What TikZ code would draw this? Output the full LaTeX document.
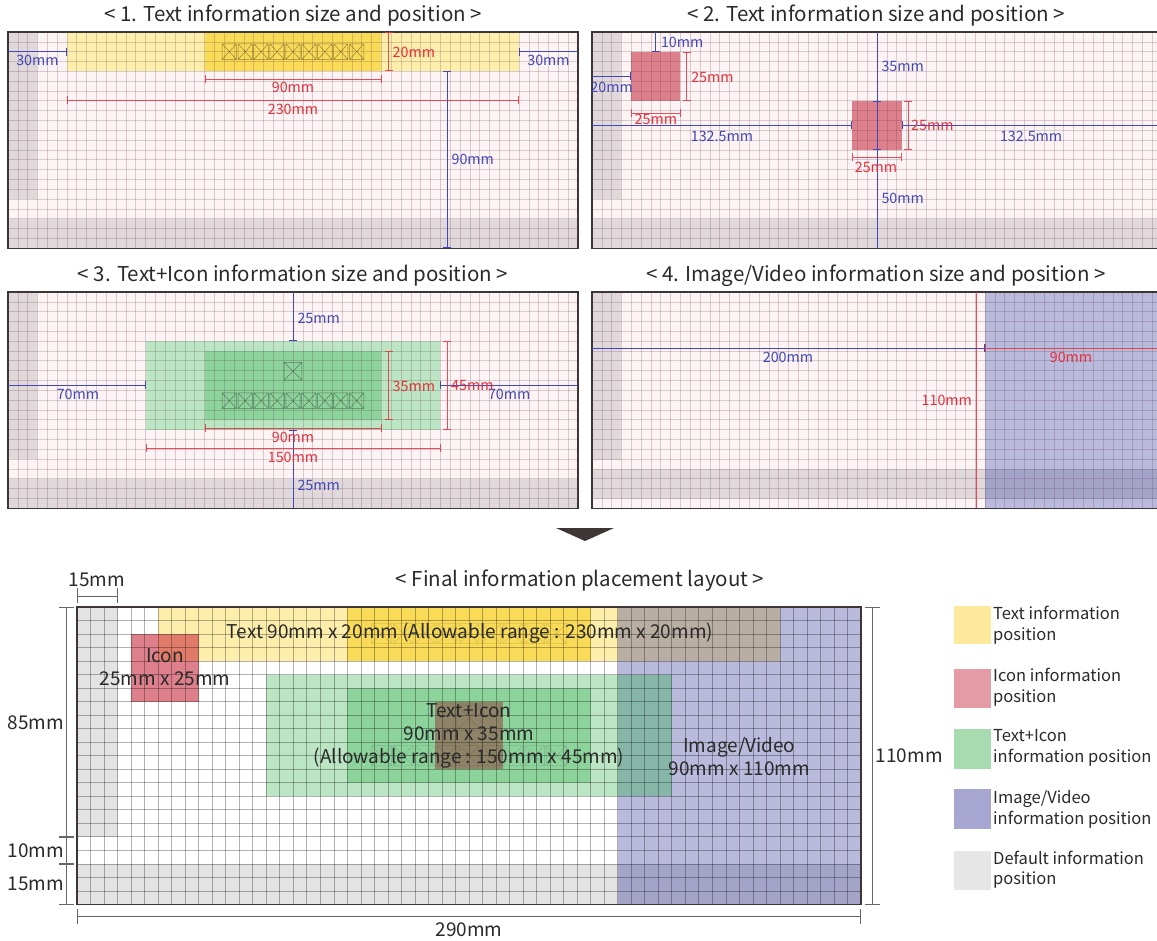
\documentclass[tikz,border=0pt]{standalone}
\usepackage{fontspec}
\setmainfont{Noto Sans CJK KR}
\usetikzlibrary{arrows.meta}
\definecolor{pinkbg}{HTML}{FCF3F4}
\definecolor{pgray}{HTML}{E0D8DA}
\definecolor{gridc}{HTML}{5A3A44}
\definecolor{framec}{HTML}{3D3536}
\definecolor{dimblue}{HTML}{4248B8}
\definecolor{dimred}{HTML}{E8303C}
\definecolor{ylight}{HTML}{FDEEAC}
\definecolor{ydark}{HTML}{F9DB58}
\definecolor{ired}{HTML}{DD808B}
\definecolor{iredy}{HTML}{E07B6A}
\definecolor{glight}{HTML}{BCE5C4}
\definecolor{gdark}{HTML}{8DD39C}
\definecolor{brownc}{HTML}{8F8468}
\definecolor{bluec}{HTML}{BABADC}
\definecolor{ybc}{HTML}{B8AEA2}
\definecolor{gbc}{HTML}{86B6A8}
\definecolor{graybc}{HTML}{A4A4C8}
\definecolor{fgray}{HTML}{E3E3E3}
\definecolor{txtc}{HTML}{2A2A2A}
\definecolor{fdim}{HTML}{666666}
\definecolor{legy}{HTML}{FCE99B}
\definecolor{legr}{HTML}{E59BA4}
\definecolor{legg}{HTML}{A6DCB0}
\definecolor{legb}{HTML}{A6A6D0}
\definecolor{legd}{HTML}{E6E6E6}
\newcommand\kk{1.9655}
\newcommand\kf{2.7034}
\newcommand\pgridlines[1]{%
  \foreach \i in {5,10,...,285} \draw[#1] (\i,0) -- (\i,110);
  \foreach \j in {5,10,...,105} \draw[#1] (0,\j) -- (290,\j);}
\newcommand\xbox[5][]{%
  \draw[#1] ({#2-#4/2},{#3-#5/2}) rectangle ({#2+#4/2},{#3+#5/2})
    ({#2-#4/2},{#3-#5/2}) -- ({#2+#4/2},{#3+#5/2})
    ({#2-#4/2},{#3+#5/2}) -- ({#2+#4/2},{#3-#5/2});}
\begin{document}
\begin{tikzpicture}[x=1pt,y=-1pt,
  pframe/.style={draw=framec,line width=1.3pt},
  pgrid/.style={draw=gridc,line width=0.6pt,opacity=0.22},
  fgrid/.style={draw=black,line width=0.6pt,opacity=0.3},
  dimB/.style={draw=dimblue,line width=1pt},
  dimR/.style={draw=dimred,line width=0.9pt,opacity=0.85},
  tickboth/.style={arrows={Bar[width=8pt]-Bar[width=8pt]}},
  tickend/.style={arrows={-Bar[width=8pt]}},
  tickstart/.style={arrows={Bar[width=8pt]-}},
  tB/.style={text=dimblue,font=\fontsize{14.3}{17}\selectfont,inner sep=0pt},
  tR/.style={text=dimred,font=\fontsize{14.3}{17}\selectfont,inner sep=0pt},
  ttl/.style={text=txtc,font=\fontsize{20.5}{24}\selectfont,inner sep=0pt},
  ft/.style={text=txtc,font=\fontsize{19}{23}\selectfont,inner sep=0pt,align=center},
  fdl/.style={draw=fdim,line width=0.8pt},
  fbar/.style={arrows={Bar[width=15pt]-Bar[width=15pt]}},
  leg/.style={text=txtc,font=\fontsize{16.5}{20.5}\selectfont,inner sep=0pt,align=left,anchor=west},
  xb/.style={draw=black,line width=0.5pt,opacity=0.4},
  xbf/.style={draw=black,line width=0.5pt,opacity=0.13}]
\useasboundingbox (0,0) rectangle (1157,941);
\fill[white] (0,0) rectangle (1157,941);

% titles
\node[ttl] (t1) at (293,16) {< 1. Text information size and position >};
\node[ttl] (t2) at (876,16) {< 2. Text information size and position >};
\node[ttl] (t3) at (293,276) {< 3. Text+Icon information size and position >};
\node[ttl] (t4) at (876,276) {< 4. Image/Video information size and position >};
\node[ttl] (t5) at (580,581) {< Final information placement layout >};

% ---------- Panel 1
\begin{scope}[shift={(8,32)},x=\kk pt,y=-\kk pt]
  \fill[pinkbg] (0,0) rectangle (290,110);
  \fill[pgray] (0,0) rectangle (15,85);
  \fill[pgray] (0,95) rectangle (290,110);
  \fill[ylight] (30,0) rectangle (260,20);
  \fill[ydark] (100,0) rectangle (190,20);
  \pgridlines{pgrid}
  \foreach \i in {0,...,8} {\xbox[xb]{145+(\i-4)*8.1}{10}{7.3}{8}}
  \draw[pframe] (0,0) rectangle (290,110);
  \draw[dimB,tickend] (0,10) -- (30,10);
  \node[tB] (p1a) at (15,14.4) {30mm};
  \draw[dimB,tickstart] (260,10) -- (290,10);
  \node[tB] (p1b) at (275,14.4) {30mm};
  \draw[dimR,tickboth] (100,24) -- (190,24);
  \node[tR] (p1c) at (145,28.2) {90mm};
  \draw[dimR,tickboth] (30,34.6) -- (260,34.6);
  \node[tR] (p1d) at (145,39.2) {230mm};
  \draw[dimR,tickboth] (193.7,0) -- (193.7,20);
  \node[tR,anchor=west] (p1e) at (195.6,10.2) {20mm};
  \draw[dimB,tickboth] (223.5,20) -- (223.5,110);
  \node[tB,anchor=west] (p1f) at (225.6,64.6) {90mm};
\end{scope}

% ---------- Panel 2
\begin{scope}[shift={(592,32)},x=\kk pt,y=-\kk pt]
  \fill[pinkbg] (0,0) rectangle (290,110);
  \fill[pgray] (0,0) rectangle (15,85);
  \fill[pgray] (0,95) rectangle (290,110);
  \fill[ired] (20,10) rectangle (45,35);
  \fill[ired] (132.5,35) rectangle (157.5,60);
  \pgridlines{pgrid}
  \draw[pframe] (0,0) rectangle (290,110);
  \draw[dimB,tickend] (32.5,0) -- (32.5,10);
  \node[tB,anchor=west] (p2a) at (35,5.2) {10mm};
  \draw[dimB,tickend] (0,22.5) -- (20,22.5);
  \node[tB] (p2b) at (10,28) {20mm};
  \draw[dimR,tickboth] (20,41.2) -- (45,41.2);
  \node[tR] (p2c) at (32.5,44.6) {25mm};
  \draw[dimR,tickboth] (48.3,10) -- (48.3,35);
  \node[tR,anchor=west] (p2d) at (50.4,22.9) {25mm};
  \draw[dimB] (145,0) -- (145,110);
  \draw[dimB,tickboth] (145,35) -- (145,60);
  \node[tB,anchor=west] (p2e) at (147.2,17.3) {35mm};
  \node[tB,anchor=west] (p2f) at (147.2,84.5) {50mm};
  \draw[dimB,tickend] (0,47.5) -- (132.5,47.5);
  \draw[dimB,tickstart] (157.5,47.5) -- (290,47.5);
  \node[tB] (p2g) at (66.1,53) {132.5mm};
  \node[tB] (p2h) at (223.4,53) {132.5mm};
  \draw[dimR,tickboth] (160.8,35) -- (160.8,60);
  \node[tR,anchor=west] (p2i) at (162.3,47.7) {25mm};
  \draw[dimR,tickboth] (132.5,63.6) -- (157.5,63.6);
  \node[tR] (p2j) at (144.5,68.8) {25mm};
\end{scope}

% ---------- Panel 3
\begin{scope}[shift={(8,292)},x=\kk pt,y=-\kk pt]
  \fill[pinkbg] (0,0) rectangle (290,110);
  \fill[pgray] (0,0) rectangle (15,85);
  \fill[pgray] (0,95) rectangle (290,110);
  \fill[glight] (70,25) rectangle (220,70);
  \fill[gdark] (100,30) rectangle (190,65);
  \pgridlines{pgrid}
  \xbox[xb]{145}{40.3}{9}{9}
  \foreach \i in {0,...,8} {\xbox[xb]{145+(\i-4)*8.1}{55.3}{7.3}{8}}
  \draw[pframe] (0,0) rectangle (290,110);
  \draw[dimB,tickend] (145,0) -- (145,25);
  \node[tB,anchor=west] (p3a) at (147.2,13.3) {25mm};
  \draw[dimB,tickstart] (145,70) -- (145,110);
  \node[tB,anchor=west] (p3b) at (147.2,98.3) {25mm};
  \draw[dimB,tickend] (0,47.5) -- (70,47.5);
  \node[tB] (p3c) at (35.6,52) {70mm};
  \draw[dimB,tickstart] (220,47.5) -- (290,47.5);
  \node[tB] (p3d) at (255,52) {70mm};
  \draw[dimR,tickboth] (100,69.2) -- (190,69.2);
  \node[tR] (p3e) at (145,73.9) {90mm};
  \draw[dimR,tickboth] (70,79.4) -- (220,79.4);
  \node[tR] (p3f) at (145,84) {150mm};
  \draw[dimR,tickboth] (193.7,30) -- (193.7,65);
  \node[tR,anchor=west] (p3g) at (195.6,47.8) {35mm};
  \draw[dimR,tickboth] (223.5,25) -- (223.5,70);
  \node[tR,anchor=west] (p3h) at (225.4,47.8) {45mm};
\end{scope}

% ---------- Panel 4
\begin{scope}[shift={(592,292)},x=\kk pt,y=-\kk pt]
  \fill[pinkbg] (0,0) rectangle (290,110);
  \fill[pgray] (0,0) rectangle (15,85.5);
  \fill[pgray] (0,90.2) rectangle (290,105.5);
  \fill[bluec] (200,0) rectangle (290,110);
  \fill[graybc] (200,90.2) rectangle (290,105.5);
  \pgridlines{pgrid}
  \draw[pframe] (0,0) rectangle (290,110);
  \draw[dimR] (195.4,0) -- (195.4,110);
  \node[tR,anchor=east] (p4a) at (193.4,55) {110mm};
  \draw[dimB,tickend] (0,28.7) -- (200,28.7);
  \node[tB] (p4b) at (99.7,33.2) {200mm};
  \draw[dimR,tickstart] (200,28.7) -- (290,28.7);
  \node[tR] (p4c) at (243.7,33.2) {90mm};
\end{scope}

% arrow
\fill[framec] (556,528) -- (614,528) -- (585,541) -- cycle;

% ---------- Final layout
\begin{scope}[shift={(77,607)},x=\kf pt,y=-\kf pt]
  \fill[white] (0,0) rectangle (290,110);
  \fill[fgray] (0,0) rectangle (15,85);
  \fill[fgray] (0,95) rectangle (290,110);
  \fill[ylight] (30,0) rectangle (260,20);
  \fill[ydark] (100,0) rectangle (190,20);
  \fill[ired] (20,10) rectangle (45,35);
  \fill[iredy] (30,10) rectangle (45,20);
  \fill[glight] (70,25) rectangle (220,70);
  \fill[gdark] (100,30) rectangle (190,65);
  \fill[brownc] (132.5,35) rectangle (157.5,60);
  \fill[bluec] (200,0) rectangle (290,110);
  \fill[ybc] (200,0) rectangle (260,20);
  \fill[gbc] (200,25) rectangle (220,70);
  \fill[graybc] (200,95) rectangle (290,110);
  \pgridlines{fgrid}
  \foreach \i in {0,...,8} {\xbox[xbf]{145+(\i-4)*8.1}{9.8}{7.3}{7.5}}
  \foreach \i in {0,...,8} {\xbox[xbf]{145+(\i-4)*8.1}{55}{7.3}{7.5}}
  \xbox[xbf]{145}{41}{9}{9}
  \draw[draw=framec,line width=1.1pt] (0,0) rectangle (290,110);
  \node[ft] (ftext) at (145.4,9.7) {Text 90mm x 20mm (Allowable range : 230mm x 20mm)};
  \node[ft] (ficon) at (32.6,22.4) {Icon\\25mm x 25mm};
  \node[ft] (fti) at (145,47.8) {Text+Icon\\90mm x 35mm\\(Allowable range : 150mm x 45mm)};
  \node[ft] (fiv) at (245,55.3) {Image/Video\\90mm x 110mm};
  % outer dimensions
  \draw[fdl,fbar] (0,-4.1) -- (15,-4.1);
  \node[ft] (d15t) at (7.4,-10) {15mm};
  \draw[fdl,fbar] (-3.8,0) -- (-3.8,85);
  \draw[fdl,fbar] (-3.8,85) -- (-3.8,95);
  \draw[fdl,fbar] (-3.8,95) -- (-3.8,110);
  \node[ft,anchor=east] (d85) at (-4.8,42.7) {85mm};
  \node[ft,anchor=east] (d10) at (-4.8,90.1) {10mm};
  \node[ft,anchor=east] (d15) at (-4.8,102.5) {15mm};
  \draw[fdl,fbar] (294.3,0) -- (294.3,110);
  \node[ft,anchor=west] (d110) at (295.4,55) {110mm};
  \draw[fdl,fbar] (0,114.3) -- (290,114.3);
  \node[ft] (d290) at (145,119.2) {290mm};
\end{scope}

% ---------- Legend
\fill[legy] (954,606) rectangle (991,644);
\node[leg] (l1) at (993,625) {Text information\\position};
\fill[legr] (954,669) rectangle (991,708);
\node[leg] (l2) at (993,687) {Icon information\\position};
\fill[legg] (954,729) rectangle (991,769);
\node[leg] (l3) at (993,748) {Text+Icon\\information position};
\fill[legb] (954,789) rectangle (991,829);
\node[leg] (l4) at (993,809.5) {Image/Video\\information position};
\fill[legd] (954,851) rectangle (991,890);
\node[leg] (l5) at (993,869.5) {Default information\\position};
\end{tikzpicture}
\end{document}
